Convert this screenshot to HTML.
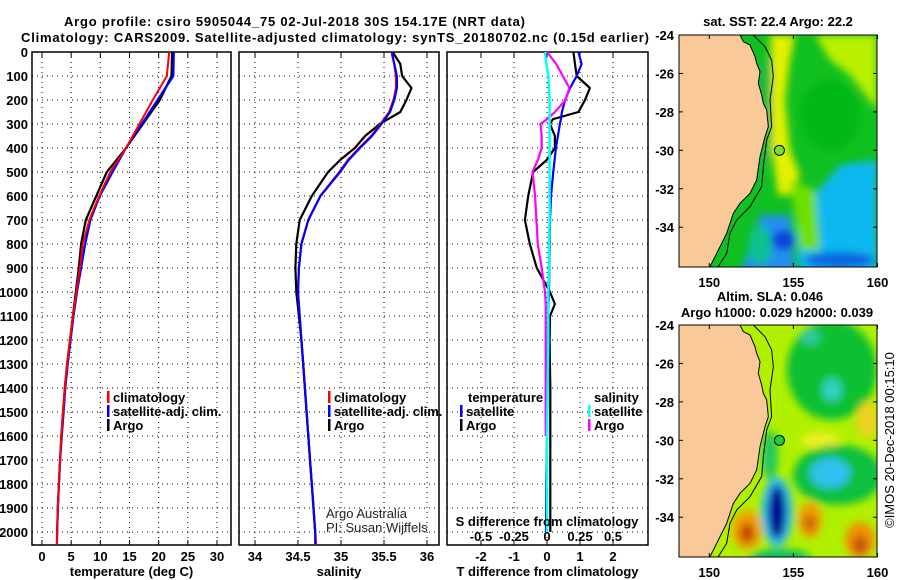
<!DOCTYPE html>
<html><head><meta charset="utf-8"><style>
html,body{margin:0;padding:0;background:#fff;}
svg{display:block;font-family:"Liberation Sans",sans-serif;}
.t{font-weight:bold;font-size:13px;fill:#000;}
</style></head><body>
<svg id="chart" width="900" height="580" viewBox="0 0 900 580" xmlns="http://www.w3.org/2000/svg">
<defs>
<filter id="bl" x="-20%" y="-20%" width="140%" height="140%"><feGaussianBlur stdDeviation="4"/></filter>
<clipPath id="m1"><rect x="679" y="35" width="198" height="232"/></clipPath>
<clipPath id="m2"><rect x="679" y="325" width="198" height="232"/></clipPath>
</defs>
<text class="t" x="64" y="26" textLength="461" font-size="14">Argo profile: csiro 5905044_75 02-Jul-2018 30S 154.17E (NRT data)</text>
<text class="t" x="21" y="42" textLength="628" font-size="14">Climatology: CARS2009. Satellite-adjusted climatology: synTS_20180702.nc (0.15d earlier)</text>
<g id="p1"></g>
<g id="p2"></g>
<g id="p3"></g>
<g id="maps"></g>
</svg>
<script>
// ---- data ----
const depthT = [0,100,200,300,400,500,600,700,800,900,1000,1100,1200,1300,1400,1500,1600,1700,1800,1900,2000,2050];
const tempClim = [21.8,21.4,19.0,16.7,14.4,11.7,9.8,8.1,7.0,6.5,5.9,5.3,4.8,4.3,3.9,3.6,3.3,3.1,2.9,2.7,2.6,2.55];
const tempSat  = [22.6,22.5,19.8,17.1,14.4,12.1,9.9,8.3,7.4,6.7,6.0,5.4,4.9,4.4,4.0,3.7,3.4,3.1,2.9,2.7,2.6,2.55];
const tempArgo = [22.3,22.2,20.2,17.3,14.4,11.1,9.3,7.5,6.7,6.3,5.8,5.3,4.8,4.3,3.9,3.6,3.3,3.1,2.9,2.7,2.6];
const depthS = [0,50,100,150,200,250,300,350,400,450,500,600,700,800,900,1000,1100,1200,1300,1400,1500,1600,1700,1800,1900,2000,2050];
const salClim = [35.59,35.62,35.64,35.64,35.61,35.56,35.46,35.35,35.21,35.08,34.98,34.76,34.62,34.54,34.51,34.50,34.52,34.54,34.56,34.58,34.60,34.62,34.64,34.66,34.68,34.70,34.71];
const salSat  = [35.59,35.62,35.65,35.65,35.62,35.57,35.47,35.36,35.22,35.09,34.99,34.76,34.62,34.54,34.51,34.50,34.52,34.54,34.56,34.58,34.60,34.62,34.64,34.66,34.68,34.70,34.70];
const salArgo = [35.60,35.69,35.71,35.82,35.76,35.69,35.45,35.28,35.16,34.99,34.85,34.66,34.52,34.48,34.47,34.48,34.51,34.54,34.56,34.58,34.60,34.62,34.64,34.66,34.68,34.70];
const depthD = [0,50,100,150,200,250,280,300,350,400,450,500,600,700,800,900,1000,1050,1100,1200,1400,1600,1800,2000];
const dTsat  = [0.95,1.05,0.9,0.7,0.55,0.45,0.42,0.39,0.33,0.27,0.23,0.19,0.12,0.09,0.08,0.07,0.06,0.05,0.04,0.03,0.01,0,-0.02,-0.03];
const dTargo = [0.8,0.85,0.9,1.3,1.15,0.95,0.18,0.09,0.24,0.24,-0.01,-0.42,-0.57,-0.67,-0.52,-0.31,0.09,0.24,0.09,0.08,0.1,0.1,0.1,0.1];
const dSargo = [0,0.07,0.12,0.17,0.14,0.06,0.0,-0.05,-0.04,-0.04,-0.07,-0.11,-0.09,-0.08,-0.07,-0.04,-0.015,-0.01,-0.01,-0.01,-0.01,-0.01];
const dSsat  = [-0.015,-0.005,0.01,0.015,0.02,0.02,0.02,0.02,0.02,0.02,0.02,0.02,0.02,0.02,0.015,0.015,0.01,0.01,0.01,0.01,0.005,0,0,0];
const depthTicks = [0,100,200,300,400,500,600,700,800,900,1000,1100,1200,1300,1400,1500,1600,1700,1800,1900,2000];
const tempTicks = [0,5,10,15,20,25,30];
const salTicks = [34,34.5,35,35.5,36];
const salTickLabels = ["34","34.5","35","35.5","36"];
const dTTicks = [-2,-1,0,1,2];
const dSTicks = [-0.5,-0.25,0,0.25,0.5];
const dSTickLabels = ["-0.5","-0.25","0","0.25","0.5"];
const lonTicks = [150,155,160];
const latTicks = [-24,-26,-28,-30,-32,-34];

const NS="http://www.w3.org/2000/svg";
function el(tag,attrs,parent,txt){const e=document.createElementNS(NS,tag);for(const k in attrs)e.setAttribute(k,attrs[k]);if(txt!==undefined)e.textContent=txt;parent.appendChild(e);return e;}
const TOP=52,BOT=545;
const yD=d=>TOP+d*0.24;
function lin(d0,d1,r0,r1){return v=>r0+(v-d0)/(d1-d0)*(r1-r0);}

function panel(g,x0,x1,xs,ticks,labels,title){
  depthTicks.forEach(d=>{const l=el('line',{x1:x0,x2:x1,y1:yD(d),y2:yD(d),stroke:'#000','stroke-width':1,'stroke-dasharray':'1 4'},g);
    });
  ticks.forEach((t,i)=>{const x=xs(t);
    const l=el('line',{x1:x,x2:x,y1:TOP,y2:BOT,stroke:'#000','stroke-width':1,'stroke-dasharray':'1 4'},g);
    
    el('line',{x1:x,x2:x,y1:BOT,y2:BOT-5,stroke:'#000'},g);el('line',{x1:x,x2:x,y1:TOP,y2:TOP+5,stroke:'#000'},g);
    if(labels){const tx=el('text',{x:x,y:561,'text-anchor':'middle',class:'t'},g,labels[i]);
      }
  });
  const r=el('rect',{x:x0,y:TOP,width:x1-x0,height:BOT-TOP,fill:'none',stroke:'#000','stroke-width':1.5},g);
  
  if(title){const tt=el('text',{x:(x0+x1)/2,y:576,'text-anchor':'middle',class:'t'},g,title);
    }
}
function line(g,xs,vals,deps,color,name,w){
  let d='';vals.forEach((v,i)=>{d+=(i?'L':'M')+xs(v).toFixed(1)+' '+yD(deps[i]).toFixed(1);});
  const p=el('path',{d:d,fill:'none',stroke:color,'stroke-width':w||2.2,'stroke-linejoin':'round'},g);
  
}
function legend(g,x,y,color,label){
  const m=el('rect',{x:x,y:y-6,width:2.5,height:12,fill:color},g);
  
  const t=el('text',{x:x+6,y:y+5,class:'t'},g,label);
  
}

// Panel 1
const p1=document.getElementById('p1');
const xT=lin(0,30,42,217);
panel(p1,32,231,xT,tempTicks,tempTicks.map(String),'temperature (deg C)');
depthTicks.forEach(d=>{const t=el('text',{x:28,y:yD(d)+5,'text-anchor':'end',class:'t'},p1,String(d));
  });
line(p1,xT,tempArgo,depthT,'#000','temp-argo-line');
line(p1,xT,tempSat,depthT,'#0000ff','temp-satellite-line');
line(p1,xT,tempClim,depthT,'#ff0000','temp-climatology-line',2);
legend(p1,107,397,'#f00','climatology');legend(p1,107,411,'#00f','satellite-adj. clim.');legend(p1,107,425,'#000','Argo');

// Panel 2
const p2=document.getElementById('p2');
const xS=lin(34,36,255,427);
panel(p2,239,439,xS,salTicks,salTickLabels,'salinity');
line(p2,xS,salArgo,depthS,'#000','sal-argo-line');
line(p2,xS,salClim,depthS,'#ff0000','sal-climatology-line');
line(p2,xS,salSat,depthS,'#0000ff','sal-satellite-line');
legend(p2,328,397,'#f00','climatology');legend(p2,328,411,'#00f','satellite-adj. clim.');legend(p2,328,425,'#000','Argo');
const aa=el('text',{x:326,y:518,'font-size':13,fill:'#222'},p2,'Argo Australia');
const pi=el('text',{x:326,y:532,'font-size':13,fill:'#222'},p2,'PI: Susan Wijffels');

// Panel 3
const p3=document.getElementById('p3');
const xDT=lin(0,1,547,580), xDS=lin(0,0.25,547,580);
panel(p3,447,648,xDT,dTTicks,dTTicks.map(String),'T difference from climatology');
line(p3,xDT,dTargo,depthD,'#000','dT-argo-line');
line(p3,xDT,dTsat,depthD,'#0000ff','dT-satellite-line');
line(p3,xDS,dSargo,depthD.slice(0,dSargo.length),'#ff00ff','dS-argo-line');
line(p3,xDS,dSsat,depthD,'#00ffff','dS-satellite-line',2.5);
const st=el('text',{x:547,y:526,'text-anchor':'middle',class:'t'},p3,'S difference from climatology');
dSTicks.forEach((s,i)=>{const t=el('text',{x:xDS(s),y:541,'text-anchor':'middle',class:'t'},p3,dSTickLabels[i]);});
const lt=el('text',{x:468,y:402,class:'t'},p3,'temperature');
const ls=el('text',{x:594,y:402,class:'t'},p3,'salinity');
legend(p3,460,411,'#00f','satellite');legend(p3,460,425,'#000','Argo');
legend(p3,588,411,'#0ff','satellite');legend(p3,588,425,'#f0f','Argo');

// Maps
const maps=document.getElementById('maps');
const coastZ=[[270,105],[280,125],[300,135],[315,170],[320,190],[330,215],[325,250],[335,285],[340,310],[350,330],[355,380],[345,410],[330,470],[320,540],[300,580],[270,610],[250,640],[230,700],[210,740],[190,780],[180,800]];
const shelfZ=[[310,105],[345,140],[365,180],[370,230],[360,300],[365,380],[350,420],[340,500],[335,560],[300,620],[260,660],[240,700],[230,760],[205,800]];
function drawMap(y0,clip,name,blobs,base){
  const g=el('g',{'clip-path':'url(#'+clip+')'},maps);
  
  el('rect',{x:679,y:y0,width:198,height:232,fill:base},g);
  const bg=el('g',{filter:'url(#bl)'},g);
  blobs.forEach(b=>{
    if(b[0]==='e')el('ellipse',{cx:b[1],cy:y0+b[2],rx:b[3],ry:b[4],fill:b[5]},bg);
    else el('polygon',{points:b[1].map(p=>p[0]+','+(y0+p[1])).join(' '),fill:b[2]},bg);
  });
  const cz=coastZ.map(p=>[650+p[0]/3,p[1]/3-35]);
  const land=[[679,-10]].concat(cz).concat([[679,260]]);
  const lp=el('polygon',{points:land.map(p=>p[0]+','+(y0+p[1])).join(' '),fill:'#f9c99a',stroke:'#000','stroke-width':1},g);
  
  const sz=shelfZ.map(p=>[650+p[0]/3,y0+p[1]/3-35]);
  const sl=el('polyline',{points:sz.map(p=>p.join(',')).join(' '),fill:'none',stroke:'#000','stroke-width':1},g);
  
  const xL=lin(148.2,160,679,877.5), yL=lin(-24,-36.07,y0,y0+232);
  const r=el('rect',{x:679,y:y0,width:198,height:232,fill:'none',stroke:'#000','stroke-width':1},maps);
  
  lonTicks.forEach(l=>{const x=xL(l);el('line',{x1:x,x2:x,y1:y0,y2:y0+4,stroke:'#000'},maps);el('line',{x1:x,x2:x,y1:y0+232,y2:y0+228,stroke:'#000'},maps);
    const t=el('text',{x:x,y:y0+252,'text-anchor':'middle',class:'t'},maps,String(l));});
  latTicks.forEach(l=>{const y=yL(l);el('line',{x1:679,x2:683,y1:y,y2:y,stroke:'#000'},maps);el('line',{x1:877,x2:873,y1:y,y2:y,stroke:'#000'},maps);
    const t=el('text',{x:674,y:y+5,'text-anchor':'end',class:'t'},maps,String(l));});
  return {xL,yL};
}
// blob coordinates: x absolute, y relative to map top
const sst=[
 ['p',[[815,0],[877,0],[877,75],[850,40],[830,25]],'#b8f000'],
 ['p',[[770,0],[795,0],[790,25],[785,65],[790,115],[800,140],[790,160],[778,160],[772,115],[772,45]],'#e4f000'],
 ['e',830,80,30,35,'#00b818'],
 ['p',[[810,165],[840,130],[877,125],[877,240],[800,240],[795,195]],'#10b8f0'],
 ['p',[[760,180],[790,180],[795,240],[740,240]],'#2090f0'],
 ['e',783,205,12,10,'#1040e0'],
 ['e',840,225,35,8,'#1060e0'],
 ['p',[[790,145],[815,155],[820,215],[800,215]],'#70e000'],
 ['e',760,210,12,20,'#10c090'],
 ['p',[[760,25],[772,25],[772,115],[760,145]],'#20b840']
];
const sla=[
 ['e',832,45,45,50,'#10c030'],['e',832,65,10,12,'#30d0c0'],['e',810,12,10,8,'#30c8a0'],
 ['e',867,95,10,18,'#f0d020'],['e',820,115,20,8,'#e8f020'],
 ['e',838,150,45,30,'#10c040'],['e',830,148,20,15,'#30c0f0'],
 ['e',777,187,16,35,'#30c0f0'],['e',777,187,9,27,'#000090'],
 ['e',747,205,15,20,'#f0a000'],['e',747,208,7,10,'#c04000'],
 ['e',810,195,12,18,'#f0a000'],['e',810,198,6,9,'#d06010'],
 ['e',860,215,15,18,'#f09000'],['e',860,220,7,9,'#c05010'],
 ['e',770,130,8,25,'#20c860'],
 ['e',780,232,30,8,'#10c060']
];
const m1=drawMap(35,'m1','sst-map',sst,'#10c020');
const m2=drawMap(325,'m2','sla-map',sla,'#b0f000');
const argoLon=154.17, argoLat=-30;
const c1=el('circle',{cx:m1.xL(argoLon),cy:m1.yL(argoLat),r:5,fill:'#80e020',stroke:'#000'},maps);
const c2=el('circle',{cx:m2.xL(argoLon),cy:m2.yL(argoLat),r:5,fill:'#20d030',stroke:'#000'},maps);
const t1=el('text',{x:778,y:26,'text-anchor':'middle',class:'t'},maps,'sat. SST: 22.4 Argo: 22.2');
const t2=el('text',{x:770,y:301,'text-anchor':'middle',class:'t'},maps,'Altim. SLA: 0.046');
const t3=el('text',{x:777,y:317,'text-anchor':'middle',class:'t'},maps,'Argo h1000: 0.029 h2000: 0.039');
const cp=el('text',{x:0,y:0,'font-size':13,fill:'#000',transform:'translate(894,440) rotate(-90)','text-anchor':'middle'},maps,'©IMOS 20-Dec-2018 00:15:10');
</script>
</body></html>
